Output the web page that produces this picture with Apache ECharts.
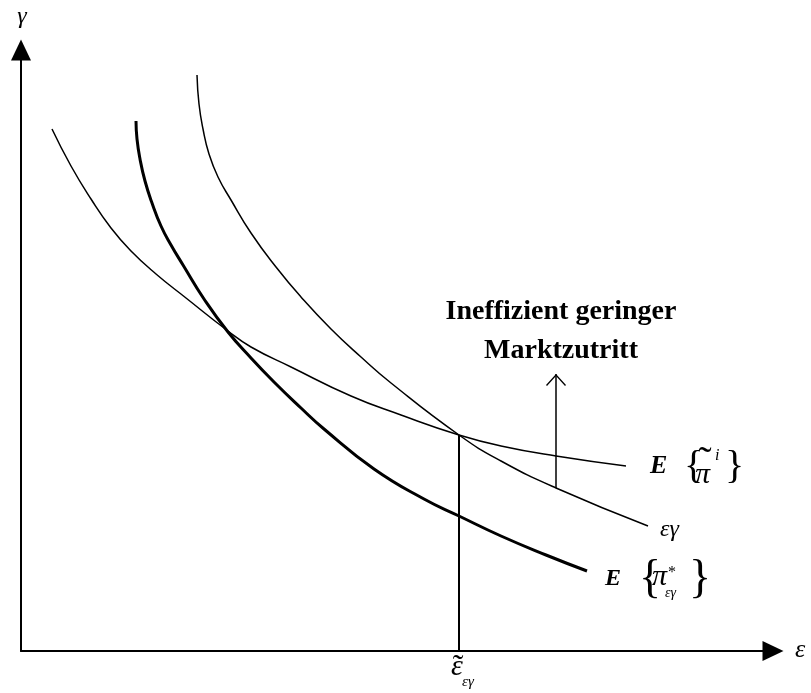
<!DOCTYPE html>
<html>
<head>
<meta charset="utf-8">
<script src="https://cdn.jsdelivr.net/npm/echarts@6/dist/echarts.min.js"></script>
<style>
  html, body { margin: 0; padding: 0; background: #fff; }
  #chart { width: 811px; height: 693px; }
</style>
</head>
<body>
<div id="chart"></div>
<script>
// Expected profit of the entrant, E{π̃^i}, over the (ε, γ) plane
const entrantProfit = [[31,522],[50,485],[70,452],[90,423],[110,400],[135,377],[165,353],[207,320],[230,304],[270,284],[330,255],[380,236],[438,216],[480,205],[535,195],[605,185]];
// Iso-curve εγ
const epsGamma = [[176,576],[178,547],[182,522],[188,497],[197,474],[210,451],[230,418],[255,384],[280,354],[310,322],[340,294],[370,268],[438,216],[480,190],[535,163],[627,125]];
// Optimal expected profit, E{π*_εγ}
const optimalProfit = [[115,530],[116,512],[119,492],[124,470],[131,448],[140,425],[150,406],[162,386],[183,352],[207,319],[230,293],[253,269],[280,243],[303,222],[353,182],[403,152],[438,135],[480,115],[525,96],[566,80]];
// Threshold ε̃_εγ: drop from the crossing of E{π̃^i} and εγ to the ε axis
const threshold = [[438,0],[438,216]];
// Arrow marking inefficiently low market entry
const entryArrow = [[535,163],[535,277]];

const X_MAX = 752, Y_MAX = 601;
const SERIF = '"Liberation Serif", "DejaVu Serif", serif';
const INK = '#000';
const CHEVRON = 'path://M0,11 L10,0 L20,11 L19,12 L10,2 L1,12 Z';

const chart = echarts.init(document.getElementById('chart'), null, { renderer: 'canvas' });

const axisCommon = {
  type: 'value',
  splitLine: { show: false },
  axisTick: { show: false },
  axisLabel: { show: false },
  axisLine: {
    show: true,
    onZero: false,
    symbol: ['none', 'triangle'],
    symbolSize: [20, 21],
    lineStyle: { color: INK, width: 2 }
  }
};

function curve(data, width) {
  return {
    type: 'line',
    data: data,
    smooth: 0.5,
    showSymbol: false,
    silent: true,
    lineStyle: { color: INK, width: width, cap: 'butt' }
  };
}

chart.setOption({
  animation: false,
  backgroundColor: '#fff',
  grid: { left: 21, right: 38, top: 50, bottom: 42 },
  xAxis: Object.assign({}, axisCommon, { min: 0, max: X_MAX }),
  yAxis: Object.assign({}, axisCommon, { min: 0, max: Y_MAX }),
  series: [
    curve(entrantProfit, 1.5),
    curve(epsGamma, 1.5),
    curve(optimalProfit, 3),
    {
      type: 'line',
      data: threshold,
      showSymbol: false,
      silent: true,
      lineStyle: { color: INK, width: 2 }
    },
    {
      type: 'line',
      silent: true,
      showAllSymbol: true,
      data: entryArrow.map(function (p, i) {
        return i === entryArrow.length - 1
          ? { value: p, symbol: CHEVRON, symbolSize: [20, 12], symbolOffset: [0, 6] }
          : { value: p, symbol: 'none' };
      }),
      itemStyle: { color: INK },
      lineStyle: { color: INK, width: 1.5 }
    }
  ]
});

// Annotations placed relative to the marks they describe
function px(p) { return chart.convertToPixel({ gridIndex: 0 }, p); }
function t(anchor, dx, dy, text, font, align) {
  return {
    type: 'text',
    silent: true,
    x: anchor[0] + dx,
    y: anchor[1] + dy,
    style: {
      text: text,
      font: font + ' ' + SERIF,
      fill: INK,
      align: align || 'left',
      verticalAlign: 'middle'
    }
  };
}

const aEnd = px(entrantProfit[entrantProfit.length - 1]);
const bEnd = px(epsGamma[epsGamma.length - 1]);
const cEnd = px(optimalProfit[optimalProfit.length - 1]);
const foot = px(threshold[0]);
const arrowTip = px(entryArrow[1]);
const yTop = px([0, Y_MAX]);
const xEnd = px([X_MAX, 0]);

chart.setOption({
  graphic: [
    // axis names
    t(yTop, 1, -33, 'γ', 'italic 24px', 'center'),
    t(xEnd, 22, -1, 'ε', 'italic 26px'),

    // caption above the arrow
    t(arrowTip, 5, -62, 'Ineffizient geringer', 'bold 28px', 'center'),
    t(arrowTip, 5, -23, 'Marktzutritt', 'bold 28px', 'center'),

    // E{π̃^i}
    t(aEnd, 24, 0, 'E', 'italic bold 26px'),
    t(aEnd, 58, 1, '{', '40px'),
    t(aEnd, 69, 9, 'π', 'italic 30px'),
    t(aEnd, 79, -3, '˜', '40px', 'center'),
    t(aEnd, 89, -10, 'i', 'italic 16px'),
    t(aEnd, 99, 1, '}', '40px'),

    // εγ
    t(bEnd, 12, 4, 'εγ', 'italic 24px'),

    // E{π*_εγ}
    t(cEnd, 18, 8, 'E', 'italic bold 24px'),
    t(cEnd, 52, 9, '{', '46px'),
    t(cEnd, 65, 6, 'π', 'italic 30px'),
    t(cEnd, 81, 2, '*', '16px'),
    t(cEnd, 78, 22, 'εγ', 'italic 14px'),
    t(cEnd, 102, 9, '}', '46px'),

    // ε̃_εγ under the threshold line
    t(foot, -2, 16, 'ε', 'italic 30px', 'center'),
    t(foot, -1, 17, '˜', '32px', 'center'),
    t(foot, 3, 31, 'εγ', 'italic 15px')
  ]
});
</script>
</body>
</html>
